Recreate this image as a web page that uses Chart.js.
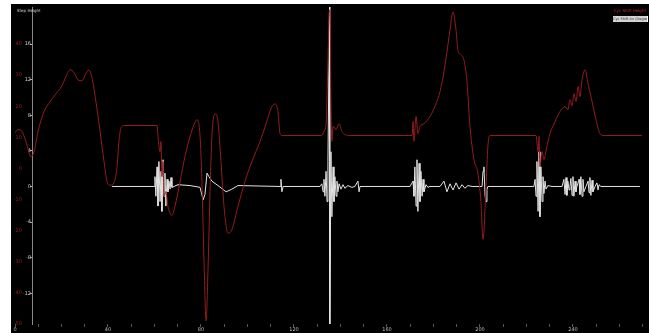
<!DOCTYPE html>
<html>
<head>
<meta charset="utf-8">
<script src="https://cdn.jsdelivr.net/npm/chart.js@4/dist/chart.umd.min.js"></script>
<style>
  html, body { margin: 0; padding: 0; background: #fff; }
  body { width: 649px; height: 333px; position: relative; overflow: hidden; }
  #wrap { position: absolute; left: 11px; top: 4px; width: 638px; height: 329px; background: #000; }
  #title { position: absolute; left: 6px; top: 4px; font: 4px "DejaVu Sans"; color: #d8d8d8; white-space: nowrap; }
  #legRed { position: absolute; right: 3px; top: 4px; font: 4px "DejaVu Sans"; color: #c42a2a; white-space: nowrap; }
  #legWhite { position: absolute; right: 1px; top: 12px; width: 34px; height: 6px; background: #d4d4d4;
              border-right: 1px solid #fff; font: 3.5px "DejaVu Sans"; line-height: 6px; color: #333;
              white-space: nowrap; overflow: hidden; text-align: center; }
</style>
</head>
<body>
<div id="wrap">
  <canvas id="chart"></canvas>
  <div id="title">Step Height</div>
  <div id="legRed">Cyc Shift Height</div>
  <div id="legWhite">Cyc Shift Ax (Degrees)</div>
</div>
<script>
// x axis ticks (minor every 10, labelled every 40)
const xTicks = [0, 10, 20, 30, 40, 50, 60, 70, 80, 90, 100, 110, 120, 130, 140, 150, 160, 170, 180, 190, 200, 210, 220, 230, 240, 250, 260, 270];
const xTickLabels = [0, 40, 80, 120, 160, 200, 240];

// left axes tick labels
const redTicks = [40, 30, 20, 10, 0, -10, -20, -30, -40, -50];
const whiteTicks = [16, 12, 8, 4, 0, -4, -8, -12];

// red series - step height
const redX = [0, 1.3, 3.0, 4.7, 6.9, 8.2, 9.9, 12.5, 15.1, 17.6, 20.2, 21.9, 23.7, 25.4, 27.1, 28.8, 30.5, 31.8, 33.1, 34.8,
  36.6, 38.3, 39.6, 40.9, 42.6, 43.9, 44.7, 45.6, 46.9, 61.1, 61.5, 62.4, 62.8, 63.2, 63.7, 64.1, 64.9, 65.8, 66.7, 67.5,
  68.8, 71.0, 73.1, 75.3, 77.0, 78.3, 79.6, 80.4, 81.3, 82.2, 83.0, 83.9, 84.7, 86.0, 87.3, 88.6, 89.9, 91.6, 93.3, 95.9,
  98.9, 101.9, 105.4, 108.0, 110.1, 111.8, 113.1, 114.0, 114.8, 132.0, 132.9, 133.8, 134.6, 135.1, 135.5, 135.9, 136.3, 136.8, 138.1, 139.4,
  140.6, 141.9, 144.1, 170.8, 171.2, 171.6, 172.5, 173.3, 174.2, 175.9, 178.5, 181.1, 182.8, 184.5, 185.8, 187.1, 188.4, 189.7, 190.5, 191.8,
  193.1, 194.4, 195.7, 197.4, 199.1, 200.4, 201.3, 202.6, 203.4, 204.3, 224.1, 225.0, 225.4, 225.8, 226.7, 227.5, 228.8, 230.1, 232.3, 234.4,
  236.6, 237.8, 238.7, 239.6, 240.4, 241.3, 242.2, 243.0, 243.9, 245.2, 246.5, 248.2, 249.9, 251.6, 252.9, 269.7];
const redY = [11.5, 12.5, 11.9, 8.7, 3.8, 5.4, 11.9, 18.3, 21.5, 24.0, 26.6, 29.5, 31.7, 30.8, 28.5, 28.2, 30.4, 31.7, 29.2, 21.5,
  11.9, 2.2, -4.2, -5.4, -4.5, 0.6, 8.7, 13.1, 13.8, 13.8, 10.3, 5.4, 8.7, -2.6, 2.2, -9.0, -7.4, -12.2, -14.4, -15.1,
  -12.2, -4.2, 3.8, 10.3, 14.1, 15.7, 10.3, -4.2, -29.8, -49.0, -33.0, -7.4, 10.3, 17.6, 15.1, 2.2, -12.2, -20.8, -19.6, -12.2,
  -4.2, 2.2, 8.7, 14.4, 19.2, 20.8, 18.3, 11.2, 10.6, 10.6, 11.9, 14.4, 34.3, 49.7, 51.0, 21.5, 8.7, 13.5, 12.5, 14.4,
  11.9, 10.9, 10.6, 10.6, 15.1, 8.7, 16.7, 11.2, 13.5, 14.4, 16.7, 20.8, 24.7, 31.1, 37.5, 44.5, 50.3, 44.5, 38.1, 36.5,
  34.9, 27.9, 13.5, 2.9, -1.6, -10.6, -22.8, -5.8, 7.1, 10.6, 10.6, 5.4, 10.3, 0.6, 5.4, 2.9, 7.1, 11.2, 15.1, 18.3,
  19.9, 18.9, 22.1, 20.2, 24.0, 21.5, 26.3, 23.1, 28.5, 31.7, 27.2, 21.5, 15.7, 11.2, 10.6, 10.6];

// white series - cyc shift angle
const whiteX = [41.7, 59.8, 60.2, 60.6, 61.1, 61.5, 61.9, 62.4, 62.8, 63.2, 63.7, 64.1, 64.5, 64.9, 65.4, 65.8, 66.2, 66.7, 67.1, 67.5,
  68.4, 70.1, 75.3, 79.6, 80.9, 81.7, 82.6, 83.4, 84.7, 87.3, 90.8, 93.3, 95.9, 114.0, 114.4, 114.8, 115.3, 116.1,
  131.2, 132.0, 132.5, 132.9, 133.3, 133.8, 134.2, 134.6, 135.3, 135.4, 135.9, 136.3, 136.8, 137.2, 137.6, 138.1, 138.5, 138.9,
  139.4, 140.2, 141.1, 141.9, 143.2, 144.9, 146.2, 147.5, 148.0, 148.4, 169.9, 171.2, 171.6, 172.0, 172.5, 172.9, 173.3, 173.8,
  174.2, 174.6, 175.1, 175.5, 175.9, 176.8, 177.6, 178.5, 182.8, 184.5, 185.8, 187.1, 188.4, 189.7, 191.0, 192.3, 193.5, 194.8,
  196.6, 200.9, 201.3, 201.7, 202.2, 202.6, 203.0, 203.4, 208.6, 223.2, 223.7, 224.1, 224.5, 225.0, 225.4, 225.8, 226.2, 226.7,
  227.1, 227.5, 228.0, 228.4, 229.2, 231.0, 235.3, 236.1, 236.6, 237.0, 237.4, 237.8, 238.3, 238.7, 239.1, 239.6, 240.0, 240.4,
  240.9, 241.3, 241.7, 242.6, 243.0, 243.4, 243.9, 244.3, 244.7, 245.6, 246.5, 246.9, 247.3, 247.7, 248.2, 248.6, 249.5, 250.3,
  250.8, 251.2, 252.0, 268.8];
const whiteY = [0, 0, 1.1, -1.1, 2.2, -2.2, 2.8, -1.7, 1.7, -2.8, 3.0, -1.1, 1.5, -2.2, 0.8, -0.6, 0.6, -0.3, 1.0, -0.1,
  0, 0.2, 0.1, -0.1, -1.5, -0.9, 1.5, 1.1, 0.6, 0.1, -0.6, -0.3, 0.1, 0, 0.8, -0.6, 0, 0,
  0, 0.3, -0.6, 0.8, -1.1, 1.7, -1.7, 2.8, 20.2, -16.6, 3.9, -3.4, 2.2, -1.7, 1.1, -1.1, 0.6, -0.6,
  0.3, -0.3, 0.2, -0.2, 0.1, -0.1, 0, 0.6, -0.6, 0, 0, 0.6, -1.1, 2.2, -2.2, 3.0, -2.8, 2.6,
  -1.7, 1.7, -1.1, 0.8, -0.6, 0.2, -0.1, 0, 0, 0.6, -0.6, 0.3, -0.4, 0.4, -0.3, 0.2, -0.2, 0.1,
  0, 0, 1.7, 2.2, -1.1, -1.7, -0.3, 0, 0, 0, 0.8, -1.1, 2.8, -2.8, 3.9, -3.4, 2.2, -1.7,
  1.1, -0.8, 0.6, -0.3, 0.1, 0, 0, 0.8, -0.9, 1.0, -1.0, 0.6, -0.4, 0, 0.9, -1.0, 1.1, -1.1,
  0.6, -0.6, 0, 0.8, -0.9, 1.1, -1.1, 0.8, -0.6, 0, 0.6, -0.7, 1.0, -1.0, 0.7, -0.6, 0, 0.4,
  -0.4, 0.2, 0, 0];

const toPoints = (xs, ys) => xs.map((x, i) => ({ x: x, y: ys[i] }));
const asTicks = list => list.map(v => ({ value: v }));

const ctx = document.getElementById('chart');

new Chart(ctx, {
    type: 'line',
    data: {
        datasets: [{
            label: 'Cyc Shift Height',
            data: toPoints(redX, redY),
            yAxisID: 'yRed',
            borderColor: '#951c1c',
            borderWidth: 1,
            pointRadius: 0,
            cubicInterpolationMode: 'monotone'
        }, {
            label: 'Cyc Shift Ax (Degrees)',
            data: toPoints(whiteX, whiteY),
            yAxisID: 'yWhite',
            borderColor: '#e4e4e4',
            borderWidth: 1,
            pointRadius: 0
        }]
    },
    options: {
        responsive: true,
        maintainAspectRatio: false,
        animation: false,
        layout: { padding: { left: 4, top: 1, right: 0, bottom: 0 } },
        plugins: {
            legend: { display: false },
            tooltip: { enabled: false }
        },
        scales: {
            x: {
                type: 'linear',
                min: 0,
                max: 272.7,
                afterBuildTicks: s => { s.ticks = asTicks(xTicks); },
                ticks: {
                    autoSkip: false,
                    maxRotation: 0,
                    padding: 0,
                    color: '#bdbdbd',
                    font: { size: 5, family: 'DejaVu Sans' },
                    callback: v => xTickLabels.includes(v) ? String(v) : ''
                },
                grid: { drawOnChartArea: false, color: '#555', tickLength: 3 },
                border: { display: false }
            },
            yRed: {
                type: 'linear',
                position: { x: 3.0 },
                min: -50,
                max: 51.9,
                afterBuildTicks: s => { s.ticks = asTicks(redTicks); },
                ticks: { padding: 0, color: '#8c2222', font: { size: 5, family: 'DejaVu Sans' } },
                grid: { display: false },
                border: { display: false }
            },
            yWhite: {
                type: 'linear',
                position: { x: 6.9 },
                min: -15.45,
                max: 20.16,
                afterBuildTicks: s => { s.ticks = asTicks(whiteTicks); },
                ticks: { padding: 0, color: '#cfcfcf', font: { size: 5, family: 'DejaVu Sans' } },
                grid: { display: false },
                border: { display: false }
            },
            yLine: {
                type: 'linear',
                position: { x: 7.7 },
                min: -15.45,
                max: 20.16,
                afterBuildTicks: s => { s.ticks = asTicks(whiteTicks); },
                ticks: { display: false },
                grid: { drawOnChartArea: false, color: '#aaa', tickLength: 2 },
                border: { display: true, color: '#8a8a8a', width: 1 }
            }
        }
    }
});
</script>
</body>
</html>
